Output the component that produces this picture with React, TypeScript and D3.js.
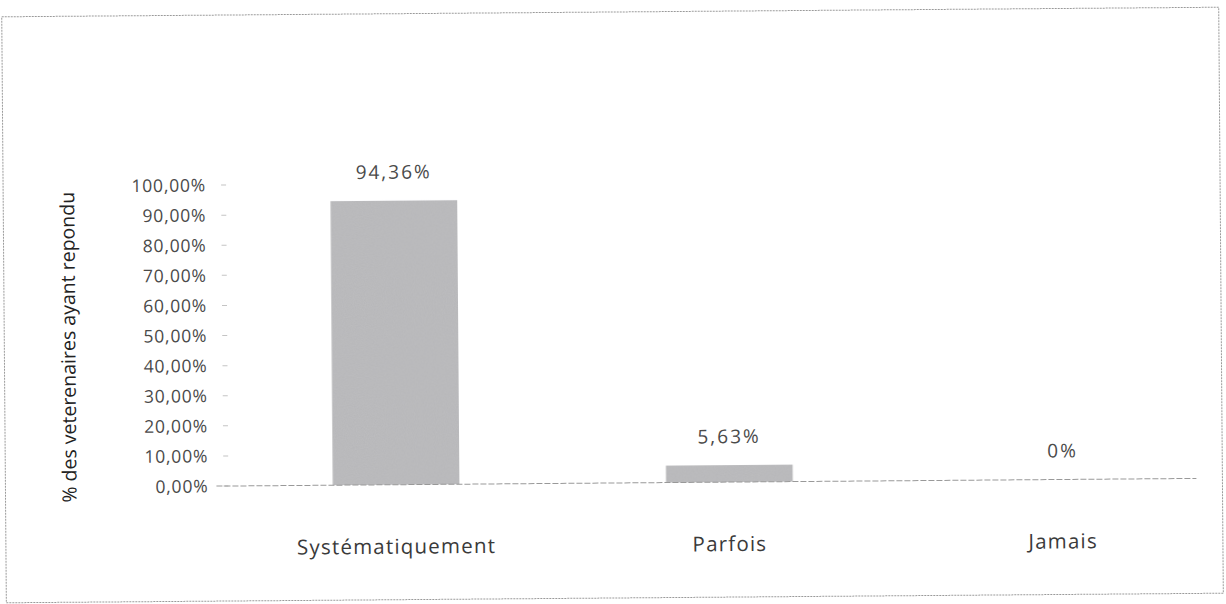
import React from "react";
import * as d3 from "d3";

// Survey answers: share of responding veterinarians per frequency
const categories = ["Systématiquement", "Parfois", "Jamais"];
const values = [94.36, 5.63, 0];
const valueLabels = ["94,36%", "5,63%", "0%"];
const yTicks = [0, 10, 20, 30, 40, 50, 60, 70, 80, 90, 100];

const W = 1226;
const H = 604;
const FONT = "'Open Sans', 'Noto Sans', sans-serif";

export default function App() {
  const y = d3.scaleLinear().domain([0, 100]).range([483, 182]);
  const x = d3
    .scaleBand<string>()
    .domain(categories)
    .range([228, 1228])
    .paddingInner(0.62)
    .paddingOuter(0.31);

  const fmtTick = (v: number) => `${v},00%`;

  return (
    <svg
      width={W}
      height={H}
      style={{ position: "absolute", left: 0, top: 0, background: "#fff" }}
    >
      <defs>
        <filter id="grain" x="0" y="0" width="100%" height="100%">
          <feTurbulence type="fractalNoise" baseFrequency="0.9" numOctaves="2" seed="3" result="n" />
          <feColorMatrix
            in="n"
            type="matrix"
            values="0 0 0 0 0.6  0 0 0 0 0.6  0 0 0 0 0.62  0 0 0 0.35 0"
            result="g"
          />
          <feComposite in="g" in2="SourceGraphic" operator="in" result="gi" />
          <feMerge>
            <feMergeNode in="SourceGraphic" />
            <feMergeNode in="gi" />
          </feMerge>
        </filter>
      </defs>
      <g transform={`rotate(-0.45 ${W / 2} ${H / 2})`}>
        {/* outer frame */}
        <rect
          x={4}
          y={12}
          width={1217}
          height={586}
          fill="none"
          stroke="#9a9a9a"
          strokeWidth={1}
          strokeDasharray="2 1"
        />

        {/* y-axis title */}
        <text
          transform={`translate(75 ${(182 + 500) / 2 + 2}) rotate(-90)`}
          textAnchor="middle"
          fontFamily={FONT}
          fontSize={19.5}
          fill="#222"
        >
          % des veterenaires ayant repondu
        </text>

        {/* y ticks and labels */}
        {yTicks.map((t) => (
          <g key={t}>
            <line x1={222} x2={227} y1={y(t)} y2={y(t)} stroke="#c4c4c4" strokeWidth={1} />
            <text
              x={207}
              y={y(t)}
              dy="0.36em"
              textAnchor="end"
              fontFamily={FONT}
              fontSize={17.5}
              letterSpacing={0.8}
              fill="#4a4a4a"
            >
              {fmtTick(t)}
            </text>
          </g>
        ))}

        {/* bars */}
        {categories.map((c, i) => (
          <rect
            key={c}
            x={x(c)}
            y={y(values[i])}
            width={x.bandwidth()}
            height={y(0) - y(values[i])}
            fill="#b6b6b8"
            filter="url(#grain)"
          />
        ))}

        {/* x axis line */}
        <line x1={215} x2={1195} y1={y(0)} y2={y(0)} stroke="#999" strokeWidth={1} strokeDasharray="6 2" />

        {/* value labels */}
        {categories.map((c, i) => (
          <text
            key={c}
            x={(x(c) ?? 0) + x.bandwidth() / 2}
            y={y(values[i]) - 22}
            textAnchor="middle"
            fontFamily={FONT}
            fontSize={19}
            letterSpacing={2}
            fill="#4a4a4a"
          >
            {valueLabels[i]}
          </text>
        ))}

        {/* category labels */}
        {categories.map((c) => (
          <text
            key={c}
            x={(x(c) ?? 0) + x.bandwidth() / 2}
            y={552}
            textAnchor="middle"
            fontFamily={FONT}
            fontSize={20.5}
            letterSpacing={1.2}
            fill="#3a3a3a"
          >
            {c}
          </text>
        ))}
      </g>
    </svg>
  );
}
